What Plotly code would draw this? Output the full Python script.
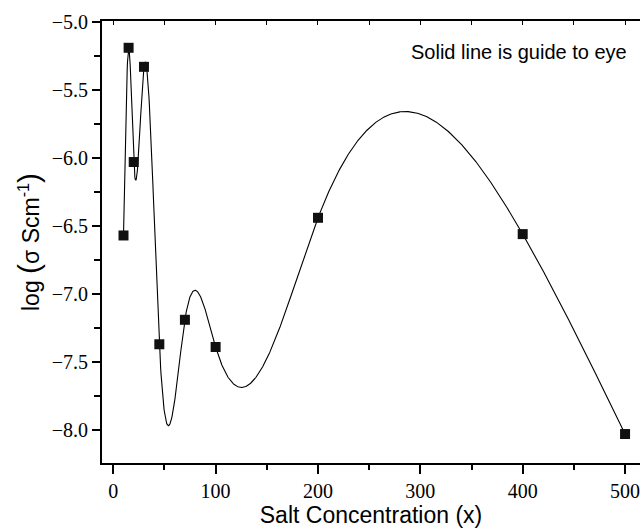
import numpy as np
import plotly.graph_objects as go

salt_conc = [10, 15, 20, 30, 45, 70, 100, 200, 400, 500]
log_sigma = [-6.57, -5.19, -6.03, -5.33, -7.37, -7.19, -7.39, -6.44, -6.56, -8.03]

x_ticks = [0, 100, 200, 300, 400, 500]
y_ticks = [-5.0, -5.5, -6.0, -6.5, -7.0, -7.5, -8.0]
y_tick_text = ["\u22125.0", "\u22125.5", "\u22126.0", "\u22126.5", "\u22127.0", "\u22127.5", "\u22128.0"]


def natural_spline(xs, ys, n=1500):
    xs = np.asarray(xs, float)
    ys = np.asarray(ys, float)
    k = len(xs)
    h = np.diff(xs)
    A = np.zeros((k, k))
    b = np.zeros(k)
    A[0, 0] = 1
    A[-1, -1] = 1
    for i in range(1, k - 1):
        A[i, i - 1] = h[i - 1]
        A[i, i] = 2 * (h[i - 1] + h[i])
        A[i, i + 1] = h[i]
        b[i] = 6 * ((ys[i + 1] - ys[i]) / h[i] - (ys[i] - ys[i - 1]) / h[i - 1])
    M = np.linalg.solve(A, b)
    xx = np.linspace(xs[0], xs[-1], n)
    idx = np.clip(np.searchsorted(xs, xx) - 1, 0, k - 2)
    x0, x1 = xs[idx], xs[idx + 1]
    hh = x1 - x0
    t0 = x1 - xx
    t1 = xx - x0
    yy = (M[idx] * t0 ** 3 / (6 * hh) + M[idx + 1] * t1 ** 3 / (6 * hh)
          + (ys[idx] / hh - M[idx] * hh / 6) * t0
          + (ys[idx + 1] / hh - M[idx + 1] * hh / 6) * t1)
    return xx, yy


sx, sy = natural_spline(salt_conc, log_sigma)

SERIF = "Liberation Serif, Times New Roman, serif"
SANS = "Liberation Sans, Arial, sans-serif"

fig = go.Figure()
fig.add_trace(go.Scatter(x=sx, y=sy, mode="lines",
                         line=dict(color="black", width=1.1), showlegend=False,
                         hoverinfo="skip"))
fig.add_trace(go.Scatter(x=salt_conc, y=log_sigma, mode="markers",
                         marker=dict(symbol="square", size=10, color="#111111"),
                         showlegend=False))
# invisible trace for top axis
fig.add_trace(go.Scatter(x=[salt_conc[0]], y=[log_sigma[0]], xaxis="x2",
                         mode="markers", marker=dict(opacity=0), showlegend=False,
                         hoverinfo="skip"))

fig.update_layout(
    width=640, height=528,
    margin=dict(l=102, r=0, t=21, b=65),
    plot_bgcolor="white", paper_bgcolor="white",
    xaxis=dict(
        range=[-11, 514.6], tickvals=x_ticks, ticktext=[str(v) for v in x_ticks],
        ticklabeloverflow="allow",
        ticks="outside", ticklen=9, tickwidth=1.5, tickcolor="black",
        showline=True, linewidth=1.8, linecolor="black", showgrid=False, zeroline=False,
        minor=dict(tickvals=[50, 150, 250, 350, 450], ticks="outside", ticklen=5,
                   tickwidth=1.5, tickcolor="black"),
        tickfont=dict(family=SERIF, size=20, color="black"),
        title=dict(text="Salt Concentration (x)", standoff=4,
                   font=dict(family=SANS, size=23, color="black")),
    ),
    xaxis2=dict(
        overlaying="x", side="top", matches="x", range=[-11, 514.6],
        tickvals=[0, 50, 100, 150, 200, 250, 300, 350, 400, 450, 500],
        showticklabels=False, ticks="inside", ticklen=4, tickwidth=1.2, tickcolor="black",
        showline=True, linewidth=1.8, linecolor="black", showgrid=False, zeroline=False,
    ),
    yaxis=dict(
        range=[-8.243, -4.993], tickvals=y_ticks, ticktext=y_tick_text,
        ticks="outside", ticklen=8, tickwidth=1.5, tickcolor="black",
        showline=True, linewidth=1.8, linecolor="black", showgrid=False, zeroline=False,
        minor=dict(tickvals=[-5.25, -5.75, -6.25, -6.75, -7.25, -7.75],
                   ticks="outside", ticklen=6, tickwidth=1.5, tickcolor="black"),
        tickfont=dict(family=SERIF, size=20, color="black"),
        title=dict(text="log <span style='font-size:30px'>(</span>\u03c3 Scm<sup>-1</sup><span style='font-size:30px'>)</span>",
                   standoff=6,
                   font=dict(family=SANS, size=23, color="black")),
    ),
    annotations=[dict(text="Solid line is guide to eye", xref="paper", yref="paper",
                      x=0.98, y=0.93, xanchor="right", yanchor="middle", showarrow=False,
                      font=dict(family=SANS, size=20, color="black"))],
)

fig.write_html("out.html")
